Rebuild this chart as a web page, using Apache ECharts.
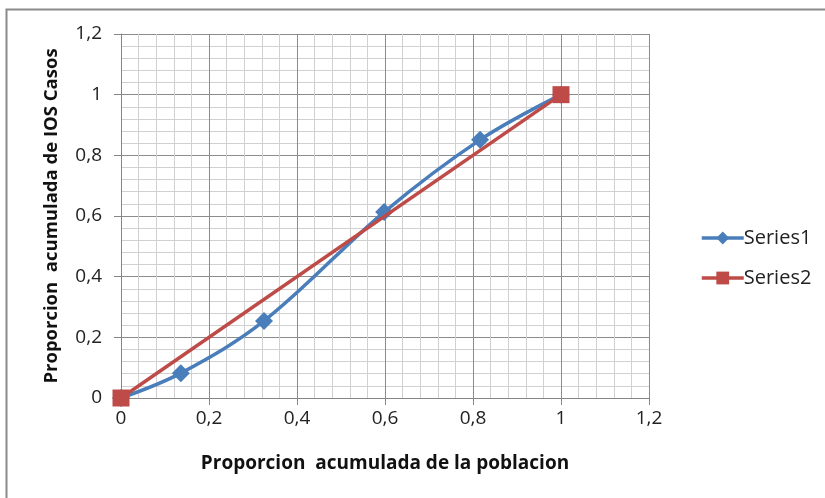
<!DOCTYPE html>
<html>
<head>
<meta charset="utf-8">
<script src="https://cdn.jsdelivr.net/npm/echarts@6/dist/echarts.min.js"></script>
<style>
  html, body { margin: 0; padding: 0; background: #fff; }
  #chart { width: 825px; height: 498px; }
</style>
</head>
<body>
<div id="chart"></div>
<script>
// Cumulative proportion of population (x) vs cumulative proportion of cases (y)
const series1X = [0, 0.136, 0.325, 0.598, 0.816, 1];
const series1Y = [0, 0.082, 0.254, 0.613, 0.851, 1];
const series2X = [0, 1];
const series2Y = [0, 1];
const seriesNames = ['Series1', 'Series2'];
const xTitle = 'Proporcion  acumulada de la poblacion';
const yTitle = 'Proporcion  acumulada de IOS Casos';

const FONT = '"Open Sans", "Noto Sans", sans-serif';
const fmt = v => String(Math.round(v * 10) / 10).replace('.', ',');

const pairs = (xs, ys) => xs.map((x, i) => [x, ys[i]]);

const axisCommon = {
  type: 'value',
  min: 0,
  max: 1.2,
  interval: 0.2,
  axisLine: { show: true, onZero: false, lineStyle: { color: '#868686', width: 1 } },
  axisTick: { show: true, length: 7, lineStyle: { color: '#868686' } },
  axisLabel: { formatter: fmt, color: '#222', fontSize: 19, fontFamily: FONT },
  splitLine: { show: true, lineStyle: { color: '#8c8c8c', width: 1 } },
  minorTick: { show: false, splitNumber: 5 },
  minorSplitLine: { show: true, lineStyle: { color: '#d0d0d0', width: 1 } },
  nameLocation: 'middle'
};

const chart = echarts.init(document.getElementById('chart'), null, { renderer: 'canvas' });
chart.setOption({
  animation: false,
  backgroundColor: '#ffffff',
  graphic: [{
    type: 'rect',
    shape: { x: 6.5, y: 9.5, width: 840, height: 520 },
    style: { fill: 'none', stroke: '#8a8a8a', lineWidth: 2 },
    silent: true
  }],
  grid: { left: 121, right: 176, top: 34, bottom: 100 },
  xAxis: Object.assign({}, axisCommon, {
    name: xTitle,
    nameGap: 56,
    nameTextStyle: { fontWeight: 'bold', fontSize: 19, color: '#111', fontFamily: FONT },
    axisLabel: Object.assign({}, axisCommon.axisLabel, { margin: 11 })
  }),
  yAxis: Object.assign({}, axisCommon, {
    name: yTitle,
    nameGap: 60,
    nameTextStyle: { fontWeight: 'bold', fontSize: 18.5, color: '#111', fontFamily: FONT },
    axisLabel: Object.assign({}, axisCommon.axisLabel, { margin: 19 })
  }),
  legend: {
    orient: 'vertical',
    left: 695,
    top: 223,
    itemGap: 20,
    itemWidth: 42,
    itemHeight: 16,
    lineStyle: { width: 3.5 },
    textStyle: { fontSize: 20, color: '#222', fontFamily: FONT, padding: [0, 0, 0, -5] },
    data: seriesNames
  },
  series: [
    {
      name: seriesNames[0],
      type: 'line',
      smooth: 0.35,
      data: pairs(series1X, series1Y),
      symbol: 'diamond',
      symbolSize: 18,
      color: '#4a7ebb',
      lineStyle: { width: 3.5, color: '#4a7ebb' },
      itemStyle: { color: '#4a7ebb' },
      z: 2
    },
    {
      name: seriesNames[1],
      type: 'line',
      data: pairs(series2X, series2Y),
      symbol: 'rect',
      symbolSize: 17,
      color: '#be4b48',
      lineStyle: { width: 3.5, color: '#be4b48' },
      itemStyle: { color: '#be4b48' },
      z: 3
    }
  ]
});
</script>
</body>
</html>
